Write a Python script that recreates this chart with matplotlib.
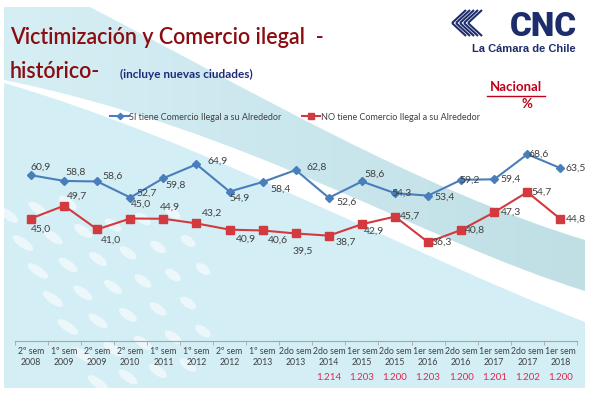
import numpy as np
import matplotlib
matplotlib.use("Agg")
import matplotlib.pyplot as plt
from matplotlib.path import Path
from matplotlib.patches import PathPatch, Ellipse
from matplotlib.colors import LinearSegmentedColormap
import matplotlib.transforms as mtransforms

plt.rcParams['font.family'] = ['Lato', 'DejaVu Sans']

# ---------------- data ----------------
periods = ["2º sem\n2008", "1º sem\n2009", "2º sem\n2009", "2º sem\n2010", "1º sem\n2011",
           "1º sem\n2012", "2º sem\n2012", "1º sem\n2013", "2do sem\n2013", "2do sem\n2014",
           "1er sem\n2015", "2do sem\n2015", "1er sem\n2016", "2do sem\n2016", "1er sem\n2017",
           "2do sem\n2017", "1er sem\n2018"]
si_tiene = [60.9, 58.8, 58.6, 52.7, 59.8, 64.9, 54.9, 58.4, 62.8, 52.6,
            58.6, 54.3, 53.4, 59.2, 59.4, 68.6, 63.5]
no_tiene = [45.0, 49.7, 41.0, 45.0, 44.9, 43.2, 40.9, 40.6, 39.5, 38.7,
            42.9, 45.7, 36.3, 40.8, 47.3, 54.7, 44.8]
muestra = ["1.214", "1.203", "1.200", "1.203", "1.200", "1.201", "1.202", "1.200"]
muestra_start = 9   # first period that has a sample size

# label offsets (points) for each data label
si_off = [(7, 6), (8, 6), (11, 4), (12, 3), (9, -5), (15, 2), (7, -5), (13, -5), (15, 2), (13, -3),
          (9, 5), (5, 0), (12, -1), (6, 0), (12, 0), (8, 0), (11, 0)]
no_off = [(7, -8), (9, 7), (10, -8), (8, 10), (5, 8), (11, 7), (12, -7), (11, -7), (5, -13), (12, -5),
          (9, -5), (11, 0), (10, 0), (10, 0), (12, 0), (10, 0), (11, 0)]

blue = "#4a7ebb"
red = "#d23a3f"
txt = "#404040"

W, H = 589, 396
fig = plt.figure(figsize=(W / 100, H / 100), dpi=100)

# ---------------- background decoration ----------------
bg = fig.add_axes([0, 0, 1, 1], zorder=-5)
bg.axis("off")

# lower light blue area
low = Path([(4, 83), (200, 140), (400, 250), (585, 322), (585, 388), (4, 388), (4, 83)],
           [Path.MOVETO, Path.CURVE4, Path.CURVE4, Path.CURVE4, Path.LINETO, Path.LINETO, Path.CLOSEPOLY])
bg.add_patch(PathPatch(low, facecolor="#d4eef5", edgecolor="none"))

# diagonal band from top left
band = Path([(4, 7), (90, 7), (250, 90), (420, 190), (585, 240), (585, 291),
             (420, 240), (250, 130), (4, 80), (4, 7)],
            [Path.MOVETO, Path.LINETO, Path.CURVE4, Path.CURVE4, Path.CURVE4, Path.LINETO,
             Path.CURVE4, Path.CURVE4, Path.CURVE4, Path.CLOSEPOLY])
bpatch = PathPatch(band, facecolor="none", edgecolor="none")
bg.add_patch(bpatch)
grad = np.linspace(0, 1, 256).reshape(1, -1)
cmap = LinearSegmentedColormap.from_list("band", ["#d6eff5", "#cae7ed", "#bfdfe4"])
im = bg.imshow(grad, extent=(0, W, H, 0), cmap=cmap, aspect="auto", zorder=0)
im.set_clip_path(bpatch)
bg.set_xlim(0, W)
bg.set_ylim(H, 0)

# white ovals in the lower left corner
for row in range(6):
    for j in range(7):
        cx = 8 + row * 30 + j * 15
        cy = 215 + j * 28 - row * 6
        if cx < 210 and 200 < cy < 385:
            bg.add_patch(Ellipse((cx, cy), 24 - row * 1.5, 9, angle=35,
                                 facecolor="white", alpha=0.55, edgecolor="none"))

# ---------------- titles ----------------
title_red = "#8b0d12"
fig.text(10 / W, 1 - 38 / H, "Victimización y Comercio ilegal  -", color=title_red,
         fontsize=15.5, fontweight="semibold", va="center", ha="left")
fig.text(10 / W, 1 - 72 / H, "histórico-", color=title_red,
         fontsize=15.5, fontweight="semibold", va="center", ha="left")
fig.text(120 / W, 1 - 74 / H, "(incluye nuevas ciudades)", color="#1f2a7a",
         fontsize=8.5, fontweight="bold", va="center", ha="left")

# logo
navy = "#1d2d6b"
fig.text(577 / W, 1 - 36 / H, "CNC", color=navy, fontsize=24, fontweight="heavy",
         family=["Roboto", "DejaVu Sans"], ha="right", va="baseline")
fig.text(576 / W, 1 - 49 / H, "La Cámara de Chile", color=navy, fontsize=8,
         fontweight="bold", family=["Liberation Sans", "DejaVu Sans"], ha="right", va="center")
for k in range(5):
    dx = k * 4
    bg.plot([452 + dx, 466 + dx], [23, 10], color=navy, lw=1.5, solid_capstyle="butt")
    bg.plot([452 + dx, 466 + dx], [23, 36], color=navy, lw=1.5, solid_capstyle="butt")

# Nacional %
fig.text(516 / W, 1 - 87 / H, "Nacional", color="#c00018", fontsize=9.5, fontweight="bold",
         ha="center", va="center")
bg.plot([487, 545], [96, 96], color="#c00018", lw=1)
fig.text(527 / W, 1 - 104 / H, "%", color="#c00018", fontsize=9.5, fontweight="bold",
         ha="center", va="center")

# ---------------- chart ----------------
ax = fig.add_axes([14.5 / W, 55 / H, 562.5 / W, 245 / H])
ax.patch.set_alpha(0)
x = np.arange(len(periods))
ax.plot(x, si_tiene, color=blue, lw=1.5, marker="D", ms=4, mec=blue, mfc=blue,
        label="SI tiene Comercio Ilegal a su Alrededor")
ax.plot(x, no_tiene, color=red, lw=1.5, marker="s", ms=6, mec=red, mfc=red,
        label="NO tiene Comercio Ilegal a su Alrededor")

for xi, v, off in zip(x, si_tiene, si_off):
    ax.annotate(f"{v:.1f}".replace(".", ","), (xi, v), xytext=off, textcoords="offset points",
                ha="center", va="center", fontsize=7.5, color=txt)
for xi, v, off in zip(x, no_tiene, no_off):
    ax.annotate(f"{v:.1f}".replace(".", ","), (xi, v), xytext=off, textcoords="offset points",
                ha="center", va="center", fontsize=7.5, color=txt)

ax.set_xlim(-0.5, len(periods) - 0.5)
ax.set_ylim(0, 90)
ax.set_yticks([])
for s in ["top", "right", "left"]:
    ax.spines[s].set_visible(False)
ax.spines["bottom"].set_color("#a6a6a6")
ax.set_xticks(x)
ax.set_xticklabels(periods, fontsize=6.3, color=txt, linespacing=1.3)
ax.tick_params(axis="x", which="major", length=0, pad=4)
ax.set_xticks(np.arange(-0.5, len(periods)), minor=True)
ax.tick_params(axis="x", which="minor", length=3, color="#a6a6a6")

trans = mtransforms.blended_transform_factory(ax.transData, fig.transFigure)
for i, m in enumerate(muestra):
    ax.text(muestra_start + i, 1 - 377 / H, m, transform=trans, ha="center", va="center",
            fontsize=7, color="#e0284a")

fig.legend(loc="center", bbox_to_anchor=(295 / W, 1 - 117 / H), ncol=2, frameon=False,
           fontsize=6.5, handlelength=2, handletextpad=0.1, columnspacing=2.2,
           labelcolor=txt, markerscale=0.8)

fig.savefig("out.png", dpi=100)
